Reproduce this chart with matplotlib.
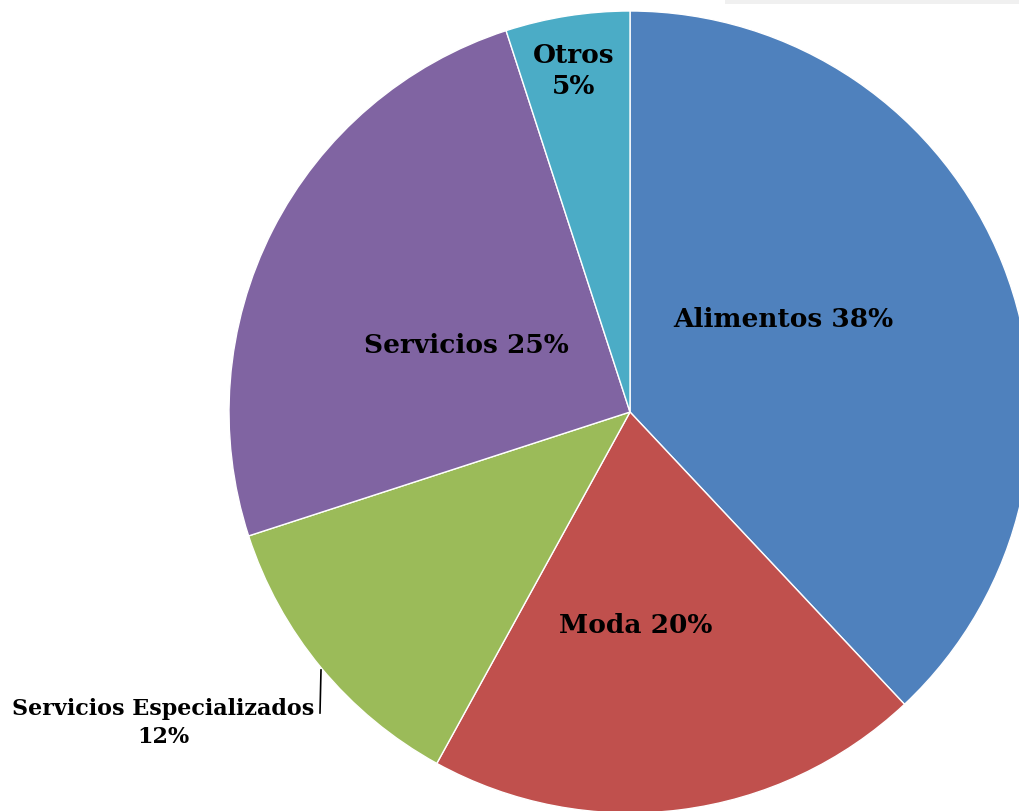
import matplotlib
matplotlib.use("Agg")
from matplotlib import pyplot as plt
from matplotlib.patches import Rectangle

# Data
categories = ["Alimentos", "Moda", "Servicios Especializados", "Servicios", "Otros"]
shares = [38, 20, 12, 25, 5]
colors = ["#4F81BD", "#C0504D", "#9BBB59", "#8064A2", "#4BACC6"]

W, H = 1020, 812
fig = plt.figure(figsize=(W / 100, H / 100), dpi=100)
ax = fig.add_axes([0, 0, 1, 1])

# pie in pixel coords (y up)
ax.pie(shares, colors=colors, startangle=90, counterclock=False,
       center=(630, H - 413), radius=401, frame=True,
       wedgeprops=dict(edgecolor="white", linewidth=1.0))
ax.set_xlim(0, W)
ax.set_ylim(0, H)
ax.set_aspect("equal")
ax.axis("off")

font = dict(family="DejaVu Serif", fontweight="bold", color="black")
# label positions (pixels from top-left)
pos = {"Alimentos": (783, 320), "Moda": (636, 626), "Servicios": (466, 346)}
for name, val in zip(categories, shares):
    if name in pos:
        x, y = pos[name]
        ax.text(x, H - y, f"{name} {val}%", ha="center", va="center", fontsize=19, **font)

ax.text(574, H - 71, f"{categories[4]}\n{shares[4]}%", ha="center", va="center",
        fontsize=19, linespacing=1.3, **font)
ax.text(163, H - 723, f"{categories[2]}\n{shares[2]}%", ha="center", va="center",
        fontsize=16, linespacing=1.35, **font)
# leader line
ax.plot([320, 321], [H - 714, H - 671], color="black", lw=1.2)

# faint legend-ish strip at top right
fig.patches.append(Rectangle((725 / W, 1 - 5 / H), 1, 5 / H, transform=fig.transFigure,
                             facecolor="#F0F0F0", edgecolor="none"))

fig.savefig("out.png", dpi=100)
